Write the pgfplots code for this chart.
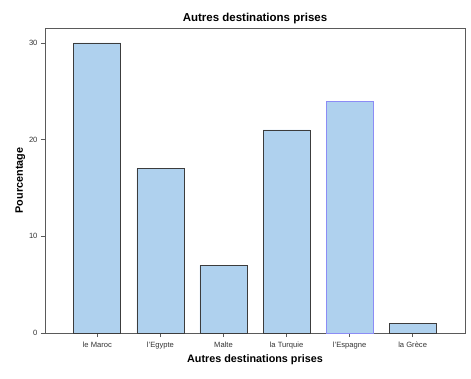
\documentclass[border=0pt]{standalone}
\usepackage{pgfplots}
\pgfplotsset{compat=1.18}
\usepackage{fontspec}
\setmainfont{Liberation Sans}
\definecolor{barfill}{RGB}{175,209,238}
\definecolor{baredge}{RGB}{60,60,60}
\definecolor{seledge}{RGB}{140,140,245}
\definecolor{axcol}{RGB}{90,90,90}
\begin{document}
\begin{tikzpicture}[x=1pt,y=1pt]
\useasboundingbox (-45,-45) rectangle (426,333);
\begin{axis}[
  at={(0,0)}, anchor=south west,
  scale only axis, width=420pt, height=305pt,
  ybar, bar width=47pt, bar shift=0pt,
  xmin=-0.83, xmax=5.83, ymin=0, ymax=31.55,
  xtick={0,1,2,3,4,5},
  xticklabels={le Maroc,l'Egypte,Malte,la Turquie,l'Espagne,la Grèce},
  ytick={0,10,20,30},
  tick align=outside, tick pos=left,
  major tick length=4pt,
  axis line style={axcol, line width=0.8pt},
  every tick/.style={axcol, line width=0.6pt},
  tick label style={font=\fontsize{7.6}{8}\selectfont, text=black!80},
  xticklabel style={yshift=-1pt},
  /pgf/number format/assume math mode=true,
  title={\bfseries Autres destinations prises},
  title style={font=\fontsize{11.5}{13}\selectfont, yshift=-5pt},
  xlabel={\bfseries Autres destinations prises},
  ylabel={\bfseries Pourcentage},
  label style={font=\fontsize{10.8}{12}\selectfont},
  xlabel style={yshift=1pt},
  ylabel style={yshift=-3pt},
]
\addplot[fill=barfill, draw=baredge, line width=0.8pt] coordinates {(0,30) (1,17) (2,7) (3,21) (5,1)};
\addplot[fill=barfill, draw=seledge, line width=0.8pt] coordinates {(4,24)};
\end{axis}
\end{tikzpicture}
\end{document}
